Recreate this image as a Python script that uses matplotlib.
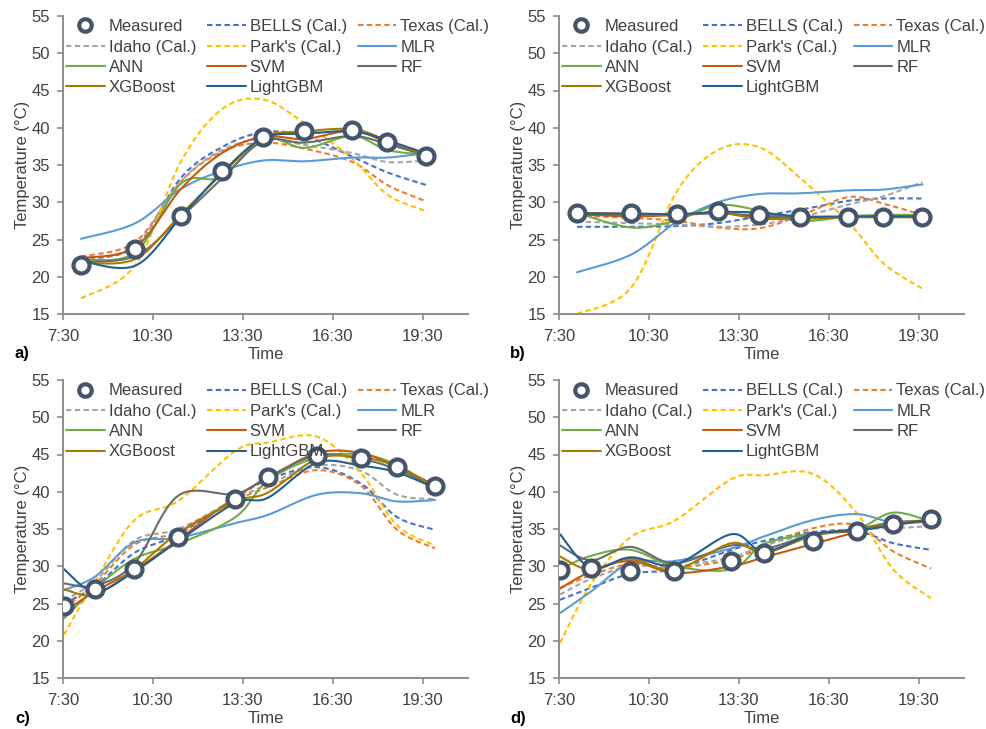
import numpy as np
import matplotlib
matplotlib.use("Agg")
import matplotlib.pyplot as plt
from matplotlib.lines import Line2D

plt.rcParams['font.family'] = ['Liberation Sans', 'DejaVu Sans']

# ---- sampling times -------------------------------------------------------
times_ab = ["8:06", "9:55", "11:26", "12:48", "14:10", "15:33", "17:09", "18:19", "19:37"]
times_cd = ["7:32", "8:34", "9:53", "11:21", "13:15", "14:20", "15:58", "17:26", "18:38", "19:54"]

# ---- panel a) ---------------------------------------------------------------
a_measured = [21.6, 23.7, 28.2, 34.2, 38.7, 39.6, 39.7, 38.1, 36.2]
a_bells = [22.3, 24.1, 33.3, 37.4, 39.4, 38.9, 36.1, 34.0, 32.3]
a_texas = [22.7, 24.7, 32.8, 36.8, 38.0, 37.2, 35.4, 32.3, 30.1]
a_idaho = [22.3, 24.2, 32.8, 37.0, 38.5, 37.7, 36.6, 35.4, 35.6]
a_parks = [17.1, 21.6, 35.5, 42.5, 43.8, 40.6, 35.8, 31.0, 28.8]
a_mlr = [25.1, 27.2, 31.8, 34.2, 35.6, 35.5, 36.0, 36.0, 36.6]
a_ann = [22.3, 23.3, 32.5, 33.4, 38.6, 37.3, 38.9, 37.0, 36.4]
a_svm = [22.5, 24.0, 31.8, 36.6, 38.8, 38.5, 39.6, 38.0, 36.2]
a_rf = [22.0, 22.8, 28.0, 33.2, 38.2, 38.0, 38.9, 37.8, 36.3]
a_xgb = [21.9, 22.4, 28.4, 33.8, 38.7, 39.5, 39.8, 38.3, 36.2]
a_lgbm = [22.1, 21.5, 28.0, 34.0, 38.6, 39.2, 39.5, 38.3, 36.5]

# ---- panel b) ---------------------------------------------------------------
b_measured = [28.5, 28.5, 28.4, 28.8, 28.3, 28.0, 28.0, 28.0, 28.0]
b_bells = [26.7, 26.7, 26.8, 27.2, 28.1, 29.0, 30.2, 30.5, 30.5]
b_texas = [28.2, 27.9, 27.5, 26.6, 26.5, 28.2, 30.7, 29.8, 28.3]
b_idaho = [27.4, 27.2, 27.0, 26.7, 27.0, 28.0, 29.7, 30.8, 32.7]
b_parks = [15.0, 18.6, 31.5, 37.0, 37.4, 33.2, 27.3, 21.8, 18.4]
b_mlr = [20.6, 23.0, 27.4, 30.0, 31.1, 31.2, 31.6, 31.7, 32.4]
b_ann = [28.6, 26.6, 27.6, 29.6, 28.9, 27.5, 28.1, 28.3, 28.3]
b_svm = [28.4, 28.1, 28.3, 28.6, 28.0, 27.9, 28.0, 28.0, 28.0]
b_rf = [28.3, 28.3, 28.3, 28.5, 28.2, 28.0, 28.0, 28.1, 28.1]
b_xgb = [28.6, 28.4, 28.3, 28.6, 27.8, 27.8, 28.0, 28.0, 28.0]
b_lgbm = [28.5, 28.5, 28.4, 28.7, 28.6, 28.1, 28.1, 28.1, 28.1]

# ---- panel c) ---------------------------------------------------------------
c_measured = [24.6, 26.9, 29.6, 33.9, 39.0, 42.0, 44.8, 44.5, 43.3, 40.8]
c_bells = [25.0, 27.3, 31.8, 34.3, 39.2, 41.6, 43.3, 41.1, 36.6, 34.9]
c_texas = [24.4, 27.6, 32.9, 34.6, 38.8, 40.6, 42.9, 40.8, 34.9, 32.4]
c_idaho = [25.4, 28.0, 33.5, 35.0, 39.0, 41.0, 43.5, 42.8, 39.6, 39.0]
c_parks = [20.8, 28.0, 36.2, 38.8, 45.5, 46.6, 47.4, 42.5, 35.5, 32.8]
c_mlr = [26.8, 28.6, 33.2, 33.8, 35.8, 36.9, 39.6, 39.8, 38.7, 38.9]
c_ann = [23.0, 27.0, 31.0, 33.0, 36.6, 41.5, 44.6, 45.0, 43.6, 40.5]
c_svm = [23.9, 26.6, 29.5, 33.6, 39.3, 41.8, 45.2, 45.2, 43.3, 40.9]
c_rf = [27.7, 27.4, 30.4, 39.5, 39.7, 42.0, 44.9, 44.4, 43.0, 40.7]
c_xgb = [26.9, 26.2, 29.6, 34.5, 38.7, 39.9, 44.4, 44.6, 43.4, 40.7]
c_lgbm = [29.6, 26.6, 29.3, 33.4, 38.5, 39.2, 43.9, 43.5, 42.6, 40.5]

# ---- panel d) ---------------------------------------------------------------
d_measured = [29.5, 29.7, 29.3, 29.4, 30.7, 31.8, 33.4, 34.75, 35.7, 36.3]
d_bells = [25.5, 27.1, 29.0, 29.6, 32.2, 33.4, 34.6, 34.7, 33.1, 32.2]
d_texas = [27.1, 28.8, 30.3, 29.8, 30.9, 32.7, 35.1, 35.5, 32.0, 29.7]
d_idaho = [26.2, 28.3, 30.0, 30.0, 31.2, 32.8, 34.4, 35.0, 35.1, 35.4]
d_parks = [19.7, 27.6, 33.9, 36.1, 41.7, 42.2, 42.4, 37.1, 29.6, 25.7]
d_mlr = [23.7, 26.6, 30.5, 30.7, 32.4, 34.0, 36.2, 37.0, 35.9, 36.2]
d_ann = [29.6, 31.4, 32.2, 30.0, 29.6, 33.0, 34.4, 35.0, 37.2, 36.0]
d_svm = [27.0, 29.3, 30.7, 29.1, 30.0, 31.2, 33.0, 34.6, 35.6, 36.0]
d_rf = [32.8, 30.8, 32.6, 30.4, 32.8, 32.3, 34.3, 35.0, 35.9, 36.1]
d_xgb = [31.3, 29.5, 31.0, 29.5, 33.1, 31.8, 34.1, 34.8, 35.8, 36.2]
d_lgbm = [34.3, 29.8, 31.2, 30.2, 34.3, 32.0, 34.3, 34.8, 35.5, 36.3]

series_names = ["BELLS (Cal.)", "Texas (Cal.)", "Idaho (Cal.)", "Park's (Cal.)", "MLR",
                "ANN", "SVM", "RF", "XGBoost", "LightGBM"]
series_colors = ["#4472C4", "#ED7D31", "#A5A5A5", "#FFC000", "#5B9BD5",
                 "#70AD47", "#C55A11", "#6B6B6B", "#A67C00", "#255E91"]
series_dashed = [True, True, True, True, False, False, False, False, False, False]
tick_hours = [7.5, 10.5, 13.5, 16.5, 19.5]
tick_text = ["7:30", "10:30", "13:30", "16:30", "19:30"]

panels = [
    ("a)", times_ab, a_measured, [a_bells, a_texas, a_idaho, a_parks, a_mlr, a_ann, a_svm, a_rf, a_xgb, a_lgbm]),
    ("b)", times_ab, b_measured, [b_bells, b_texas, b_idaho, b_parks, b_mlr, b_ann, b_svm, b_rf, b_xgb, b_lgbm]),
    ("c)", times_cd, c_measured, [c_bells, c_texas, c_idaho, c_parks, c_mlr, c_ann, c_svm, c_rf, c_xgb, c_lgbm]),
    ("d)", times_cd, d_measured, [d_bells, d_texas, d_idaho, d_parks, d_mlr, d_ann, d_svm, d_rf, d_xgb, d_lgbm]),
]

TEXT = "#404040"
SPINE = "#8C8C8C"
MEAS = "#44546A"


def to_hours(label):
    h, m = label.split(":")
    return int(h) + int(m) / 60.0


def smooth_curve(xs, ys, sx=30.0, sy=7.46, n=30):
    """Spreadsheet-style smoothed line: cubic Bezier segments with
    Catmull-Rom control points, built in an isotropic (screen-like) space."""
    P = np.column_stack([np.asarray(xs, float) * sx, np.asarray(ys, float) * sy])
    Pe = np.vstack([P[0], P, P[-1]])
    t = np.linspace(0, 1, n)[:, None]
    parts = []
    for i in range(len(P) - 1):
        p0, p1, p2, p3 = Pe[i], Pe[i + 1], Pe[i + 2], Pe[i + 3]
        c1 = p1 + (p2 - p0) / 6.0
        c2 = p2 - (p3 - p1) / 6.0
        seg = ((1 - t) ** 3) * p1 + 3 * ((1 - t) ** 2) * t * c1 + 3 * (1 - t) * t ** 2 * c2 + t ** 3 * p2
        parts.append(seg if i == 0 else seg[1:])
    arr = np.vstack(parts)
    return arr[:, 0] / sx, arr[:, 1] / sy


W, H = 987, 729
fig = plt.figure(figsize=(W / 100, H / 100), dpi=100)
fig.patch.set_facecolor("white")

# axes boxes in pixels: (left, top, right, bottom)
boxes = [(63, 16, 468, 314), (559, 16, 964, 314), (63, 380, 468, 678), (559, 380, 964, 678)]
label_pos = [(15, 353), (510, 353), (15, 718), (510, 718)]

for (tag, tlabels, meas, values), (l, t, r, b), (lx, ly) in zip(panels, boxes, label_pos):
    ax = fig.add_axes([l / W, 1 - b / H, (r - l) / W, (b - t) / H])
    hrs = [to_hours(s) for s in tlabels]
    handles = {}
    for name, col, dashed, vals in zip(series_names, series_colors, series_dashed, values):
        sx_, sy_ = smooth_curve(hrs, vals)
        ln, = ax.plot(sx_, sy_, color=col, lw=1.5,
                      linestyle=(0, (2.6, 1.6)) if dashed else "-",
                      solid_capstyle="round", zorder=2)
        handles[name] = ln
    ax.plot(hrs, meas, linestyle="none", marker="o", markersize=11.5,
            markeredgewidth=3.0, markeredgecolor=MEAS, markerfacecolor="white", zorder=5)
    handles["Measured"] = Line2D([], [], linestyle="none", marker="o", markersize=9,
                                 markeredgewidth=3.0, markeredgecolor=MEAS,
                                 markerfacecolor="white")

    ax.set_xlim(7.5, 21.0)
    ax.set_ylim(15, 55)
    ax.set_xticks(tick_hours)
    ax.set_xticklabels(tick_text)
    ax.set_yticks(np.arange(15, 56, 5))
    for side in ("top", "right"):
        ax.spines[side].set_visible(False)
    for side in ("left", "bottom"):
        ax.spines[side].set_color(SPINE)
        ax.spines[side].set_linewidth(1.4)
    ax.tick_params(axis="both", direction="out", length=4.5, width=1.2, color=SPINE,
                   labelsize=12, labelcolor=TEXT)
    ax.tick_params(axis="x", pad=6.5)
    ax.tick_params(axis="y", pad=5)
    ax.set_xlabel("Time", fontsize=12, color=TEXT, labelpad=2)
    ax.set_ylabel("Temperature (°C)", fontsize=12, color=TEXT, labelpad=1)

    # legend laid out row by row: 3 columns, filled column-wise by matplotlib
    order = ["Measured", "Idaho (Cal.)", "ANN", "XGBoost",
             "BELLS (Cal.)", "Park's (Cal.)", "SVM", "LightGBM",
             "Texas (Cal.)", "MLR", "RF"]
    leg = ax.legend([handles[k] for k in order], order, ncol=3, loc="upper left",
                    bbox_to_anchor=(0, 1), frameon=False, fontsize=12,
                    borderpad=0.2, borderaxespad=0, handlelength=2.3,
                    handletextpad=0.25, columnspacing=0.65, labelspacing=0.32)
    for txt in leg.get_texts():
        txt.set_color(TEXT)
    leg.set_zorder(10)

    fig.text(lx / W, 1 - ly / H, tag, fontsize=12, fontweight="bold", color="black",
             ha="left", va="center")

fig.savefig("out.png", dpi=100, facecolor="white")
